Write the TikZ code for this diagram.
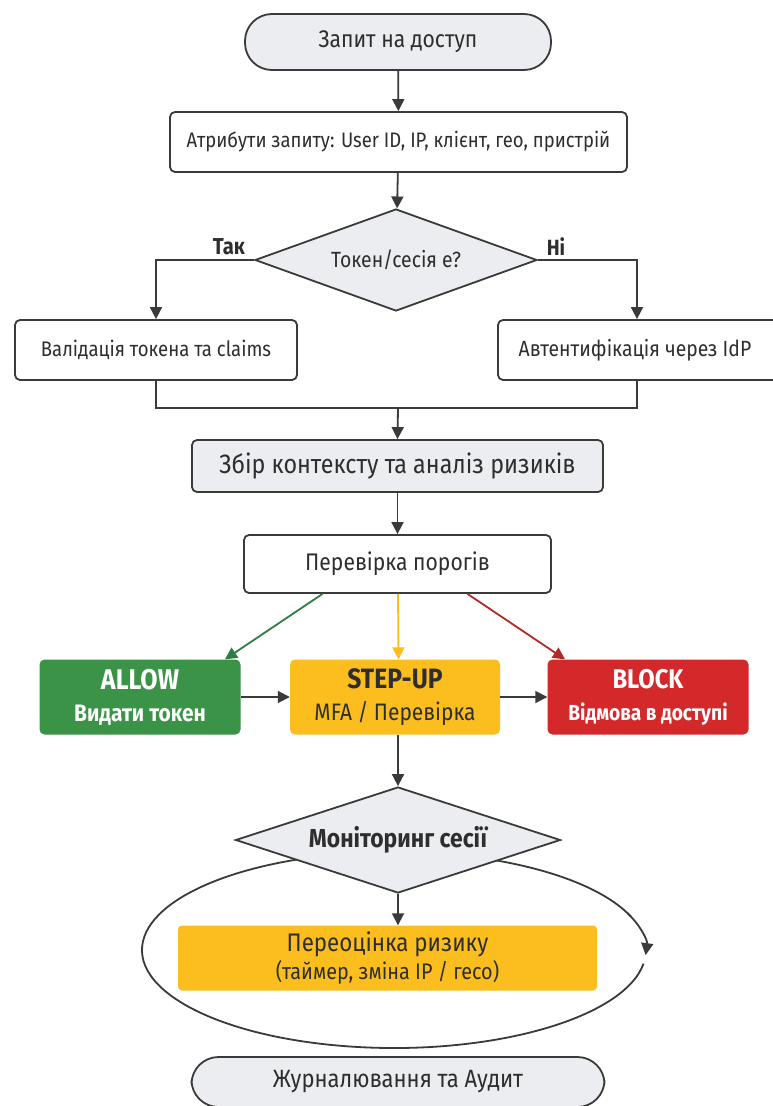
\documentclass[tikz,border=0pt]{standalone}
\usepackage{fontspec}
\setmainfont{Fira Sans}[FakeStretch=0.88]
\usetikzlibrary{shapes.geometric,arrows.meta,calc}

\definecolor{ink}{HTML}{3A3A3A}
\definecolor{txt}{HTML}{2E2E2E}
\definecolor{softgray}{HTML}{ECEDF0}
\definecolor{okgreen}{HTML}{3A9346}
\definecolor{warnyellow}{HTML}{FBBE1E}
\definecolor{badred}{HTML}{D3292B}
\definecolor{arrgreen}{HTML}{2F7D45}
\definecolor{arrred}{HTML}{B02A26}

\newcommand{\fs}[1]{\fontsize{#1}{1.2\dimexpr#1pt\relax}\selectfont}

\tikzset{
  tip/.style={-{Triangle[length=12pt,width=12pt]}},
  flow/.style={draw=ink, line width=1.8pt, tip},
  plain/.style={draw=ink, line width=1.8pt},
  terminal/.style={draw=ink, line width=1.8pt, fill=softgray, rounded corners=27pt,
    text=txt, align=center, inner sep=0pt},
  procbox/.style={draw=ink, line width=1.8pt, fill=white, rounded corners=5pt,
    text=txt, align=center, inner sep=0pt},
  graybox/.style={procbox, fill=softgray},
  decision/.style={diamond, draw=ink, line width=1.8pt, fill=softgray, text=txt,
    inner sep=0pt, align=center, aspect=3},
  outcome/.style={rounded corners=5pt, align=center, inner sep=0pt,
    minimum width=201pt, minimum height=75pt},
  lbl/.style={text=txt, font=\fs{23}\bfseries}
}

\begin{document}
\begin{tikzpicture}[x=1pt,y=-1pt]
\useasboundingbox (0,0) rectangle (773,1106);
\clip (0,0) rectangle (773,1106);
\fill[white] (0,0) rectangle (773,1106);

% entry and request attributes
\node[terminal, minimum width=306pt, minimum height=56pt, font=\fs{24}] (start) at (398,42) {Запит на доступ};
\node[procbox, minimum width=457pt, minimum height=60pt, font=\fs{21}] (attr) at (398.5,142)
  {Атрибути запиту: User ID, IP, клієнт, гео, пристрій};

% token decision (diamond drawn empty, its text set on top)
\node[decision, minimum width=282pt, minimum height=102pt] (tok) at (396,260) {};
\node[text=txt, font=\fs{22}] (toktext) at (tok.center) {Токен/сесія е?};
\node[lbl] (yes) at (229,247) {Так};
\node[lbl, font=\fs{22}\bfseries] (no) at (556,247) {Ні};

\node[procbox, minimum width=282pt, minimum height=60pt, font=\fs{21.1}] (val) at (156,350) {Валідація токена та claims};
\node[procbox, minimum width=280pt, minimum height=60pt, font=\fs{22}] (idp) at (638,350) {\hspace*{-6pt}Автентифікація через IdP};

\coordinate (merge) at (398,408);

% context and thresholds
\node[graybox, minimum width=411pt, minimum height=52pt, font=\fs{26.5}] (ctx) at (397.5,466) {Збір контексту та аналіз ризиків};
\node[procbox, minimum width=307pt, minimum height=58pt, font=\fs{24}] (thr) at (397.5,564) {Перевірка порогів};

% outcomes
\node[outcome, fill=okgreen, text=white, font=\fontsize{24}{32}\selectfont\bfseries] (allow) at (140,697)
  {{\fontsize{28.5}{32}\selectfont ALLOW}\\{\fontsize{23.8}{32}\selectfont Видати токен}};
\node[outcome, fill=warnyellow, text=txt, minimum width=210pt, font=\fontsize{24}{32}\selectfont] (step) at (395,697)
  {{\fontsize{28}{32}\selectfont\bfseries STEP-UP}\\{\fontsize{23.8}{32}\selectfont MFA / Перевірка}};
\node[outcome, fill=badred, text=white, font=\fontsize{24}{32}\selectfont\bfseries] (block) at (648,697)
  {{\fontsize{27}{32}\selectfont BLOCK}\\{\fontsize{21.8}{32}\selectfont Відмова в доступі}};

% session monitoring loop
\coordinate (loopc) at (394,950);
\draw[plain] ([shift={(-90:252 and 98)}]loopc) arc[start angle=-90, end angle=-20, x radius=252, y radius=98];
\draw[plain, tip] ([shift={(-22:252 and 98)}]loopc) arc[start angle=-22, end angle=3, x radius=252, y radius=98];
\draw[plain] ([shift={(8:252 and 98)}]loopc) arc[start angle=8, end angle=270, x radius=252, y radius=98];

\node[decision, minimum width=325pt, minimum height=106pt] (mon) at (398,840) {};
\node[text=txt, font=\fs{26}\bfseries] (montext) at (mon.center) {Моніторинг сесії};
\node[rounded corners=4pt, fill=warnyellow, text=txt, align=center, inner sep=0pt,
  minimum width=419pt, minimum height=65pt, font=\fontsize{24}{28}\selectfont] (reval) at (387.5,958)
  {{\fontsize{25.4}{28}\selectfont Переоцінка ризику}\\{\fontsize{22.5}{28}\selectfont(таймер, зміна IP / гесо)}};

\node[terminal, minimum width=413pt, minimum height=50pt, font=\fs{25}] (audit) at (398,1082) {Журналювання та Аудит};

% connectors
\draw[flow] (start) -- (attr);
\draw[flow] (attr) -- (tok);
\draw[flow] (tok.west) -| (val.north);
\draw[flow] (tok.east) -| ([xshift=-1pt]idp.north);
\draw[plain] (val.south) |- (merge) -| ([xshift=-1pt]idp.south);
\draw[flow] (merge) -- (ctx.north);
\draw[flow] (ctx) -- (thr);
\draw[flow, draw=arrgreen, -{Triangle[length=12pt,width=12pt,fill=arrgreen]}] ([xshift=-75pt]thr.south) -- ([xshift=85pt]allow.north);
\draw[flow, draw=warnyellow] ([xshift=0.5pt]thr.south) -- ([xshift=3.5pt]step.north);
\draw[flow, draw=arrred] ([xshift=70pt]thr.south) -- ([xshift=-83pt]block.north);
\draw[flow] (allow) -- (step);
\draw[flow] (step) -- (block);
\draw[flow] (step.south -| mon.north) -- (mon.north);
\draw[flow] (mon.south) -- (mon.south |- reval.north);
\end{tikzpicture}
\end{document}
